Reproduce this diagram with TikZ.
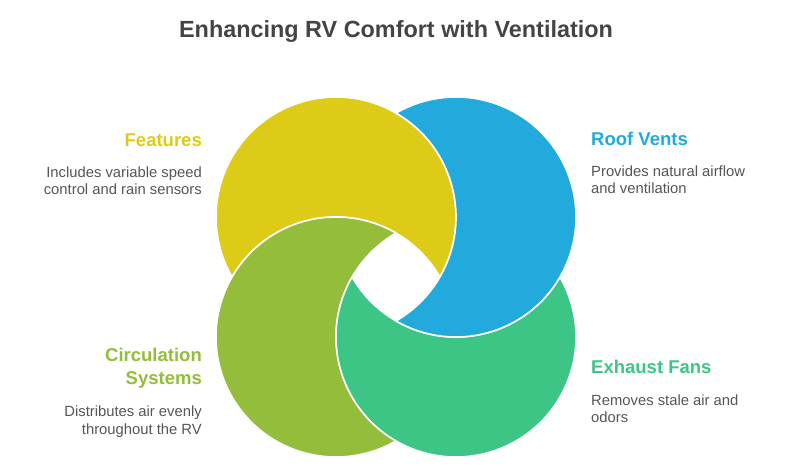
\documentclass[tikz,border=0pt]{standalone}
\usepackage{fontspec}
\setmainfont{Liberation Sans}
\usetikzlibrary{positioning}
\definecolor{ventyellow}{HTML}{DDCB17}
\definecolor{ventblue}{HTML}{21AADB}
\definecolor{ventgreen}{HTML}{3DC585}
\definecolor{ventolive}{HTML}{93BD3A}
\definecolor{titlegray}{HTML}{444444}
\definecolor{bodygray}{HTML}{555555}
\tikzset{petal/.style={draw=white,line width=1.6pt,line join=round},
  heading/.style={font=\fontsize{18.5}{23}\selectfont\bfseries,inner sep=0pt},
  body/.style={font=\fontsize{14.8}{17.5}\selectfont,text=bodygray,inner sep=0pt}}

\begin{document}
\begin{tikzpicture}[x=1pt,y=1pt]
      \useasboundingbox (0,0) rectangle (792,475);
      \node[font=\fontsize{23.4}{28}\selectfont\bfseries,text=titlegray,anchor=base] (title) at (396,437) {Enhancing RV Comfort with Ventilation};

      \coordinate (yc) at (336,258);
      \coordinate (bc) at (456,258);
      \coordinate (gc) at (456,138);
      \coordinate (oc) at (336,138);
      % each circle minus the next one
      \path[petal,fill=ventyellow] ([shift={(-30:120pt)}]yc) arc[start angle=-30,end angle=210,radius=120pt] arc[start angle=150,end angle=30,radius=120pt] -- cycle;
      \path[petal,fill=ventolive] ([shift={(60:120pt)}]oc) arc[start angle=60,end angle=300,radius=120pt] arc[start angle=240,end angle=120,radius=120pt] -- cycle;
      \path[petal,fill=ventgreen] ([shift={(150:120pt)}]gc) arc[start angle=150,end angle=390,radius=120pt] arc[start angle=-30,end angle=-150,radius=120pt] -- cycle;
      \path[petal,fill=ventblue] ([shift={(-120:120pt)}]bc) arc[start angle=-120,end angle=120,radius=120pt] arc[start angle=60,end angle=-60,radius=120pt] -- cycle;

      \node[heading,text=ventyellow,anchor=base east] (feat) at (202,329) {Features};
      \node[body,align=right,below left=20pt and 0pt of feat.south east] (feattxt) {Includes variable speed\\control and rain sensors};
      \node[heading,text=ventblue,anchor=base west] (roof) at (591,330) {Roof Vents};
      \node[body,align=left,below right=20pt and 0pt of roof.south west] (rooftxt) {Provides natural airflow\\and ventilation};
      \node[heading,text=ventolive,align=right,anchor=north east] (circ) at (202,127) {Circulation\\Systems};
      \node[body,align=right,below left=17pt and 0pt of circ.south east] (circtxt) {Distributes air evenly\\throughout the RV};
      \node[heading,text=ventgreen,anchor=base west] (exh) at (591,102) {Exhaust Fans};
      \node[body,align=left,below right=21pt and 0pt of exh.south west] (exhtxt) {Removes stale air and\\odors};
  \end{tikzpicture}
\end{document}
